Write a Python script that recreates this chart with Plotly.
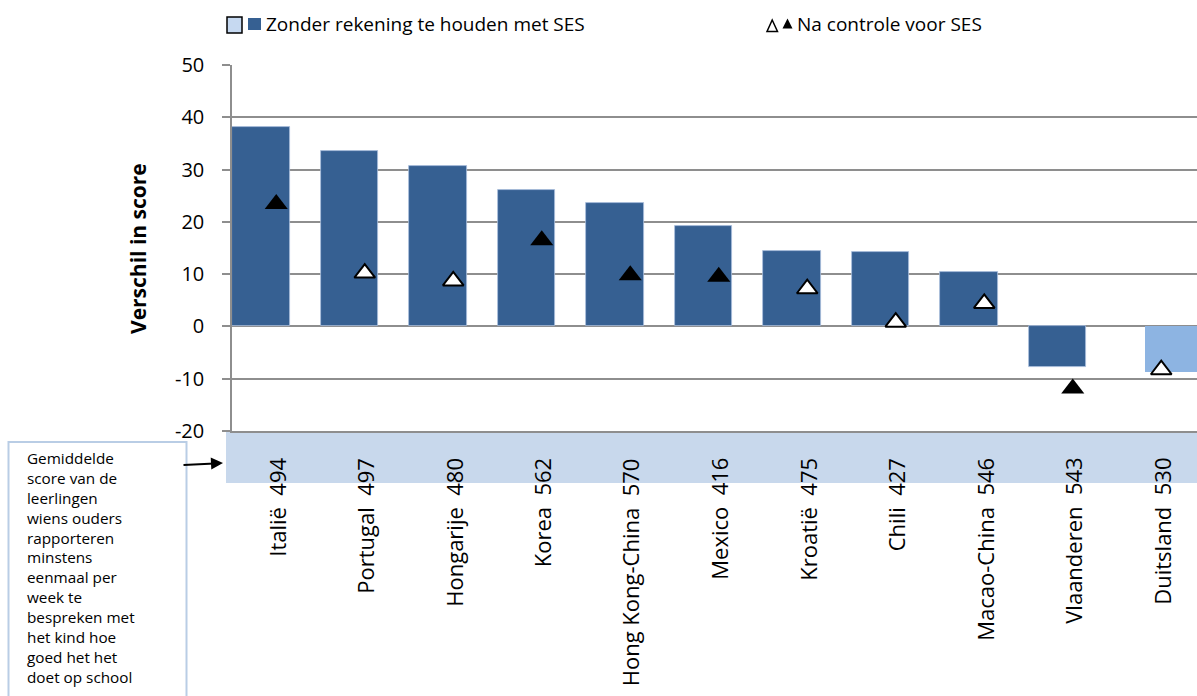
import plotly.graph_objects as go

# ---------------- data ----------------
categories = ["Italië", "Portugal", "Hongarije", "Korea", "Hong Kong-China", "Mexico",
              "Kroatië", "Chili", "Macao-China", "Vlaanderen", "Duitsland"]
mean_scores = [494, 497, 480, 562, 570, 416, 475, 427, 546, 543, 530]
zonder_ses = [38.1, 33.6, 30.7, 26.1, 23.6, 19.2, 14.4, 14.2, 10.5, -7.8, -8.8]
na_controle_ses = [23.4, 10.2, 8.7, 16.5, 9.8, 9.5, 7.2, 0.8, 4.4, -11.9, -8.3]
significant = [True, False, False, True, True, True, False, False, False, True, False]
highlight = ["Duitsland"]
legend_bars = "Zonder rekening te houden met SES"
legend_markers = "Na controle voor SES"
y_title = "Verschil in score"
y_ticks = [50, 40, 30, 20, 10, 0, -10, -20]
box_lines = ["Gemiddelde", "score van de", "leerlingen", "wiens ouders", "rapporteren",
             "minstens", "eenmaal per", "week te", "bespreken met", "het kind hoe",
             "goed het het", "doet op school"]

# ---------------- styling ----------------
FONT = "Open Sans"
DARK = "#366092"
LIGHT = "#8db4e2"
BAND = "#c8d8ec"
GRID = "#8e8e8e"
W, H = 1197, 696
L, R, T, B = 232, 1197, 65, 431


def xp(px):
    return (px - L) / (R - L)


def yp(py):
    return (B - py) / (B - T)


idx = list(range(len(categories)))
dark_x = [i for i, c in zip(idx, categories) if c not in highlight]
dark_y = [v for v, c in zip(zonder_ses, categories) if c not in highlight]
light_x = [i for i, c in zip(idx, categories) if c in highlight]
light_y = [v for v, c in zip(zonder_ses, categories) if c in highlight]

fig = go.Figure()
fig.add_trace(go.Bar(x=dark_x, y=dark_y, width=0.655, offset=-0.5,
                     marker=dict(color=DARK, line=dict(color="#a9bfdc", width=0.8)),
                     showlegend=False))
fig.add_trace(go.Bar(x=light_x, y=light_y, width=0.655, offset=-0.186,
                     marker=dict(color=LIGHT, line=dict(width=0)),
                     showlegend=False))

fx = [i for i, s in zip(idx, significant) if s]
fy = [v for v, s in zip(na_controle_ses, significant) if s]
ox = [i for i, s in zip(idx, significant) if not s]
oy = [v for v, s in zip(na_controle_ses, significant) if not s]
fig.add_trace(go.Scatter(x=fx, y=fy, mode="markers", showlegend=False,
                         marker=dict(symbol="triangle-up", size=20, color="black",
                                     line=dict(width=0))))
fig.add_trace(go.Scatter(x=ox, y=oy, mode="markers", showlegend=False,
                         marker=dict(symbol="triangle-up", size=18, color="white",
                                     line=dict(width=2, color="black"))))

shapes = []
annotations = []

# band below the plot with mean scores
shapes.append(dict(type="rect", xref="paper", yref="paper", x0=xp(226), x1=1.0,
                   y0=yp(483), y1=yp(431.5), fillcolor=BAND, line=dict(width=0),
                   layer="below"))

# category labels with mean scores
for i, (c, s) in enumerate(zip(categories, mean_scores)):
    annotations.append(dict(x=i, y=yp(456), xref="x", yref="paper",
                            text=f"{c}\u00a0\u00a0{s}", textangle=-90, showarrow=False,
                            xanchor="center", yanchor="top",
                            font=dict(family=FONT, size=22, color="black")))

# y-axis title
annotations.append(dict(x=xp(138), y=yp(249), xref="paper", yref="paper",
                        text=f"<b>{y_title}</b>", textangle=-90, showarrow=False,
                        xanchor="center", yanchor="middle",
                        font=dict(family=FONT, size=21, color="black")))

# legend
shapes.append(dict(type="rect", xref="paper", yref="paper", x0=xp(227), x1=xp(242),
                   y0=yp(33), y1=yp(17), fillcolor="#c6d9f1",
                   line=dict(color="black", width=1.5)))
shapes.append(dict(type="rect", xref="paper", yref="paper", x0=xp(248), x1=xp(261),
                   y0=yp(30), y1=yp(18), fillcolor=DARK, line=dict(width=0)))
annotations.append(dict(x=xp(264), y=yp(24), xref="paper", yref="paper",
                        text=legend_bars, showarrow=False, xanchor="left",
                        yanchor="middle", font=dict(family=FONT, size=19, color="black")))
shapes.append(dict(type="path", xref="paper", yref="paper",
                   path=f"M {xp(767)},{yp(31.5)} L {xp(777.5)},{yp(31.5)} L {xp(772.2)},{yp(20)} Z",
                   fillcolor="white", line=dict(color="black", width=1.5)))
shapes.append(dict(type="path", xref="paper", yref="paper",
                   path=f"M {xp(782.5)},{yp(28.5)} L {xp(792.5)},{yp(28.5)} L {xp(787.5)},{yp(18.5)} Z",
                   fillcolor="black", line=dict(width=0)))
annotations.append(dict(x=xp(795), y=yp(24), xref="paper", yref="paper",
                        text=legend_markers, showarrow=False, xanchor="left",
                        yanchor="middle", font=dict(family=FONT, size=19, color="black")))

# explanatory box
shapes.append(dict(type="rect", xref="paper", yref="paper", x0=xp(8.5), x1=xp(186.5),
                   y0=yp(720), y1=yp(442), fillcolor="white",
                   line=dict(color="#b9cde5", width=2)))
annotations.append(dict(x=xp(25), y=yp(446), xref="paper", yref="paper",
                        text="<br>".join(box_lines), showarrow=False, xanchor="left",
                        yanchor="top", align="left",
                        font=dict(family=FONT, size=15.3, color="black")))
# arrow
annotations.append(dict(x=xp(223), y=yp(463), xref="paper", yref="paper", text="",
                        showarrow=True, ax=-41, ay=2, arrowhead=2, arrowsize=1.2,
                        arrowwidth=2, arrowcolor="black"))

fig.update_layout(
    width=W, height=H,
    margin=dict(l=L, r=W - R, t=T, b=H - B, pad=0),
    plot_bgcolor="white", paper_bgcolor="white",
    barmode="overlay", bargap=0,
    showlegend=False,
    shapes=shapes, annotations=annotations,
    font=dict(family=FONT, color="black"),
    xaxis=dict(range=[-0.5, (R - L) / 88.5 - 0.5], showgrid=False, zeroline=False,
               showticklabels=False, ticks="", showline=True, linecolor=GRID,
               linewidth=1.5),
    yaxis=dict(range=[-20.02, 50.02], tickvals=y_ticks, ticktext=[str(v) for v in y_ticks],
               showgrid=True, gridcolor=GRID, gridwidth=1.5, zeroline=False,
               showline=True, linecolor=GRID, linewidth=1.5,
               ticks="outside", ticklen=8, tickcolor=GRID, tickwidth=1.5,
               ticklabelstandoff=14,
               tickfont=dict(family=FONT, size=20, color="black")),
)

fig.write_html("out.html", config={"displayModeBar": False},
               post_script="document.body.style.margin='0';document.body.style.overflow='hidden';")
